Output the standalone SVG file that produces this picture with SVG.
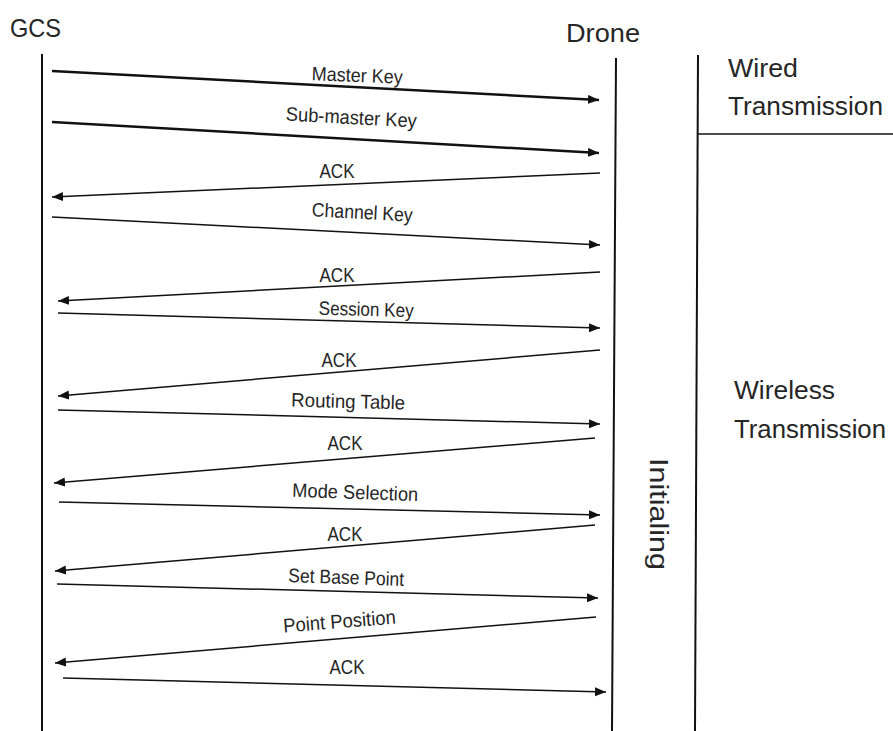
<svg xmlns="http://www.w3.org/2000/svg" width="893" height="731" viewBox="0 0 893 731">
  <style>
    .lbl { font-family: "Liberation Sans", Arial, sans-serif; font-size: 19.5px; fill: #262626; text-anchor: middle; }
    .head { font-family: "Liberation Sans", Arial, sans-serif; font-size: 26px; fill: #262626; }
    .side { font-family: "Liberation Sans", Arial, sans-serif; font-size: 26px; fill: #262626; }
    .life { stroke: #111; stroke-width: 2; fill: none; }
    .msg { stroke: #111; stroke-width: 1.5; fill: none; marker-end: url(#arrow); }
    .msg.bold { stroke-width: 2.5; }
  </style>
  <defs>
    <marker id="arrow" markerUnits="userSpaceOnUse" markerWidth="12" markerHeight="10" refX="11" refY="4.5" orient="auto">
      <path d="M0,0 L11,4.5 L0,9 z" fill="#111"/>
    </marker>
  </defs>
  <rect width="893" height="731" fill="#fff"/>

  <!-- participants -->
  <g id="gcs">
    <text class="head" x="10" y="37" textLength="51" lengthAdjust="spacingAndGlyphs">GCS</text>
    <line class="life" x1="42" y1="54" x2="42" y2="731"/>
  </g>
  <g id="drone">
    <text class="head" x="566" y="42" textLength="74" lengthAdjust="spacingAndGlyphs">Drone</text>
    <line class="life" x1="616" y1="58" x2="612" y2="731"/>
    <text class="side" transform="translate(650,514) rotate(90)" text-anchor="middle" textLength="112" lengthAdjust="spacingAndGlyphs">Initialing</text>
  </g>

  <!-- phase column -->
  <g id="phases">
    <line class="life" x1="698" y1="55" x2="695" y2="731"/>
    <line stroke="#111" stroke-width="1.5" x1="697" y1="134" x2="893" y2="134"/>
    <text class="side" x="728" y="77" textLength="70" lengthAdjust="spacingAndGlyphs">Wired</text>
    <text class="side" x="728" y="115" textLength="155" lengthAdjust="spacingAndGlyphs">Transmission</text>
    <text class="side" x="734" y="399" textLength="101" lengthAdjust="spacingAndGlyphs">Wireless</text>
    <text class="side" x="734" y="438" textLength="152" lengthAdjust="spacingAndGlyphs">Transmission</text>
  </g>

  <!-- messages -->
  <g id="connectors">
    <line class="msg bold" x1="52" y1="71" x2="599" y2="100"/>
    <line class="msg bold" x1="52" y1="122" x2="599" y2="153"/>
    <line class="msg" x1="600" y1="173" x2="52" y2="197"/>
    <line class="msg" x1="52" y1="217" x2="600" y2="245"/>
    <line class="msg" x1="600" y1="272" x2="58" y2="301"/>
    <line class="msg" x1="58" y1="313" x2="600" y2="328"/>
    <line class="msg" x1="600" y1="350" x2="58" y2="396"/>
    <line class="msg" x1="58" y1="410" x2="600" y2="424"/>
    <line class="msg" x1="595" y1="438" x2="54" y2="483"/>
    <line class="msg" x1="59" y1="502" x2="600" y2="515"/>
    <line class="msg" x1="595" y1="525" x2="55" y2="571"/>
    <line class="msg" x1="57" y1="584" x2="598" y2="598"/>
    <line class="msg" x1="596" y1="617" x2="55" y2="663"/>
    <line class="msg" x1="63" y1="678" x2="606" y2="692"/>
  </g>

  <!-- message labels -->
  <g id="labels">
    <text class="lbl" x="357" y="82" transform="rotate(2.2 357 82)" textLength="91" lengthAdjust="spacingAndGlyphs">Master Key</text>
    <text class="lbl" x="351" y="124" transform="rotate(3 351 124)" textLength="131" lengthAdjust="spacingAndGlyphs">Sub-master Key</text>
    <text class="lbl" x="337" y="178" textLength="35" lengthAdjust="spacingAndGlyphs">ACK</text>
    <text class="lbl" x="362" y="219" transform="rotate(3 362 219)" textLength="101" lengthAdjust="spacingAndGlyphs">Channel Key</text>
    <text class="lbl" x="337" y="282" textLength="35" lengthAdjust="spacingAndGlyphs">ACK</text>
    <text class="lbl" x="366" y="316" transform="rotate(1.5 366 316)" textLength="95" lengthAdjust="spacingAndGlyphs">Session Key</text>
    <text class="lbl" x="339" y="367" textLength="35" lengthAdjust="spacingAndGlyphs">ACK</text>
    <text class="lbl" x="348" y="408" transform="rotate(1.5 348 408)" textLength="114" lengthAdjust="spacingAndGlyphs">Routing Table</text>
    <text class="lbl" x="345" y="450" textLength="35" lengthAdjust="spacingAndGlyphs">ACK</text>
    <text class="lbl" x="355" y="499" transform="rotate(2 355 499)" textLength="126" lengthAdjust="spacingAndGlyphs">Mode Selection</text>
    <text class="lbl" x="345" y="541" textLength="35" lengthAdjust="spacingAndGlyphs">ACK</text>
    <text class="lbl" x="346" y="584" transform="rotate(2 346 584)" textLength="116" lengthAdjust="spacingAndGlyphs">Set Base Point</text>
    <text class="lbl" x="340" y="628" transform="rotate(-4.5 340 628)" textLength="113" lengthAdjust="spacingAndGlyphs">Point Position</text>
    <text class="lbl" x="347" y="674" textLength="35" lengthAdjust="spacingAndGlyphs">ACK</text>
  </g>
</svg>
